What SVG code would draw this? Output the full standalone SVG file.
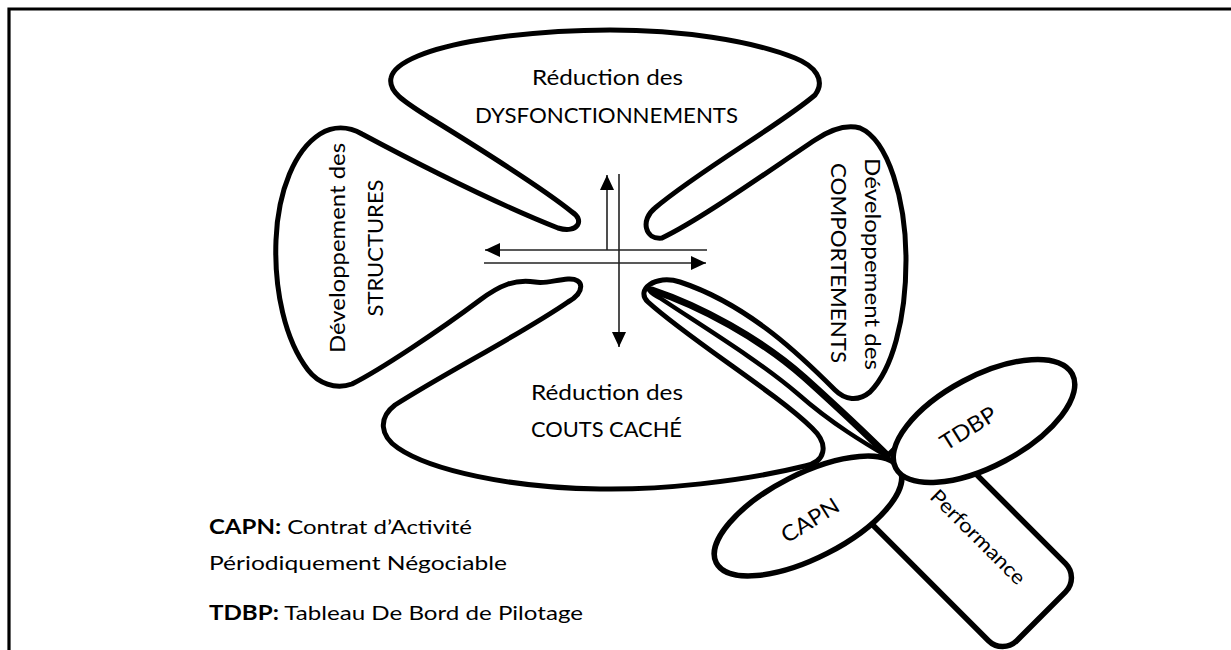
<svg xmlns="http://www.w3.org/2000/svg" width="1231" height="650" viewBox="0 0 1231 650">
<defs>
<marker id="ah" markerUnits="userSpaceOnUse" markerWidth="16" markerHeight="14" refX="15" refY="7" orient="auto">
<path d="M0,0 L15,7 L0,14 Z" fill="#000"/>
</marker>
<style>
.leaf{fill:none;stroke:#000;stroke-width:5;stroke-linejoin:round;stroke-linecap:round}
.fl{fill:#fff;stroke:#000;stroke-width:5.5}
.ax{stroke:#222;stroke-width:1.6;fill:none}
.lb{font-family:Lato,"Open Sans",sans-serif;font-size:22px;fill:#000}
.lg{font-family:Lato,"Open Sans",sans-serif;font-size:20px;fill:#000}
.b{font-weight:bold}
</style>
</defs>
<rect width="1231" height="650" fill="#fff"/>
<g id="frame">
<path d="M9,650 L9,9 L1231,9" fill="none" stroke="#000" stroke-width="3.2"/>
</g>
<g id="clover">
<path class="leaf" d="M572,212 C545,190 490,155 430,118 C405,102 388,92 391,78 C394,62 430,48 480,40 C530,32 570,30 610,30 C680,30 750,40 795,58 C815,66 826,80 815,95 C780,125 700,170 655,208 C640,220 645,240 662,238 C700,220 770,170 815,140 C830,130 845,124 860,128 C888,140 906,200 906,260 C906,320 892,370 870,392 C858,402 845,400 835,390 C805,360 750,305 680,282 C655,274 635,290 648,302 C690,340 775,392 812,428 C830,445 825,462 805,466 C740,482 660,490 600,489 C510,488 430,470 398,448 C380,436 378,418 395,405 C450,370 520,335 568,302 C585,292 585,278 568,279 C555,280 545,284 535,282 C515,279 500,285 480,300 C440,330 380,370 352,384 C335,390 318,383 308,370 C285,340 274,290 276,240 C278,190 295,150 320,134 C333,126 348,126 362,134 C420,165 500,205 558,228 C578,234 585,220 572,212 Z"/>
</g>
<g id="stem">
<path class="leaf" style="stroke-width:7" d="M652,290 C700,306 760,338 805,378 C845,414 872,440 890,458"/>
<path class="leaf" style="stroke-width:4.5" d="M890,458 C866,444 832,424 798,394 C758,360 705,328 660,298 C648,292 646,286 652,290"/>
</g>
<g id="connectors">
<line class="ax" x1="607" y1="250" x2="607" y2="175" marker-end="url(#ah)"/>
<line class="ax" x1="619" y1="174" x2="619" y2="347" marker-end="url(#ah)"/>
<line class="ax" x1="707" y1="250" x2="485" y2="250" marker-end="url(#ah)"/>
<line class="ax" x1="484" y1="263" x2="706" y2="263" marker-end="url(#ah)"/>
</g>
<g id="top-leaf-label">
<text class="lb" x="607.5" y="85" text-anchor="middle" textLength="151" lengthAdjust="spacingAndGlyphs">Réduction des</text>
<text class="lb" x="606.5" y="123" text-anchor="middle" textLength="263" lengthAdjust="spacingAndGlyphs">DYSFONCTIONNEMENTS</text>
</g>
<g id="left-leaf-label">
<text class="lb" transform="translate(345,248) rotate(-90)" text-anchor="middle" textLength="210" lengthAdjust="spacingAndGlyphs">Développement des</text>
<text class="lb" transform="translate(383,248) rotate(-90)" text-anchor="middle" textLength="137" lengthAdjust="spacingAndGlyphs">STRUCTURES</text>
</g>
<g id="right-leaf-label">
<text class="lb" transform="translate(865,264) rotate(90)" text-anchor="middle" textLength="212" lengthAdjust="spacingAndGlyphs">Développement des</text>
<text class="lb" transform="translate(831,263) rotate(90)" text-anchor="middle" textLength="200" lengthAdjust="spacingAndGlyphs">COMPORTEMENTS</text>
</g>
<g id="bottom-leaf-label">
<text class="lb" x="607" y="400" text-anchor="middle" textLength="152" lengthAdjust="spacingAndGlyphs">Réduction des</text>
<text class="lb" x="606.5" y="437" text-anchor="middle" textLength="151" lengthAdjust="spacingAndGlyphs">COUTS CACHÉ</text>
</g>
<g id="performance">
<rect class="fl" transform="translate(962.7,537.8) rotate(45)" x="-111" y="-54.5" width="222" height="109" rx="20"/>
<text class="lg" transform="translate(978,537) rotate(45)" x="0" y="7" text-anchor="middle" textLength="125" lengthAdjust="spacingAndGlyphs">Performance</text>
</g>
<g id="capn">
<ellipse class="fl" cx="808" cy="516" rx="103" ry="42" transform="rotate(-27 808 516)"/>
<text class="lb" transform="translate(810,520) rotate(-32)" x="0" y="8" text-anchor="middle" textLength="64" lengthAdjust="spacingAndGlyphs">CAPN</text>
</g>
<g id="tdbp">
<ellipse class="fl" cx="984" cy="421" rx="100" ry="45" transform="rotate(-28 984 421)"/>
<text class="lb" transform="translate(968,428) rotate(-32)" x="0" y="8" text-anchor="middle" textLength="62" lengthAdjust="spacingAndGlyphs">TDBP</text>
</g>
<g id="legend">
<text class="lg" x="209" y="534" textLength="263" lengthAdjust="spacingAndGlyphs"><tspan class="b">CAPN:</tspan> Contrat d’Activité</text>
<text class="lg" x="209" y="570" textLength="298" lengthAdjust="spacingAndGlyphs">Périodiquement Négociable</text>
<text class="lg" x="209" y="620" textLength="374" lengthAdjust="spacingAndGlyphs"><tspan class="b">TDBP:</tspan> Tableau De Bord de Pilotage</text>
</g>
</svg>
